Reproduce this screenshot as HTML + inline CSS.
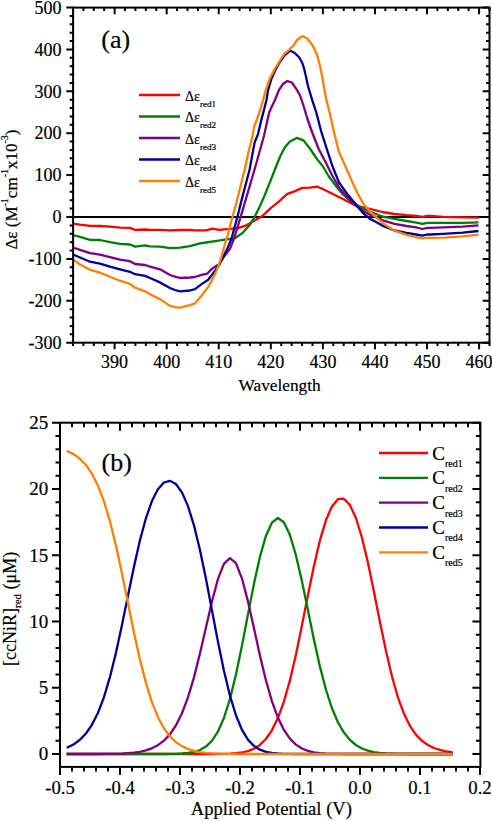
<!DOCTYPE html><html><head><meta charset="utf-8"><style>
html,body{margin:0;padding:0;background:#fff;}
svg{display:block;}
text{font-family:"Liberation Serif",serif;fill:#000;stroke:#000;stroke-width:0.2px;}
</style></head><body>
<svg width="492" height="821" viewBox="0 0 492 821">
<rect width="492" height="821" fill="#fff"/>
<line x1="73.1" y1="217" x2="489.5" y2="217" stroke="#000" stroke-width="2"/>
<polyline points="73.0,223.6 80.0,224.6 90.0,225.8 100.0,226.0 110.0,226.7 120.0,227.6 130.0,227.9 135.0,229.8 145.0,229.5 150.0,229.8 160.0,229.8 170.0,230.3 180.0,230.0 190.0,229.8 195.0,230.4 206.0,230.4 212.5,228.6 219.1,229.9 230.0,228.9 238.1,228.2 246.3,225.3 254.4,220.7 262.5,215.9 270.7,208.2 278.8,201.7 286.9,194.1 295.0,191.1 302.4,187.9 309.8,187.7 317.1,186.6 321.1,188.2 329.3,192.3 337.4,196.3 348.8,202.0 356.9,206.1 368.3,208.5 376.1,210.4 382.2,212.0 394.4,214.0 406.6,215.2 416.3,215.9 422.4,216.8 427.3,215.9 430.0,215.9 443.2,216.8 462.7,217.3 478.5,217.6" fill="none" stroke="#ff0000" stroke-width="2.3" stroke-linejoin="round" stroke-linecap="butt"/>
<polyline points="73.0,235.0 80.0,236.8 90.0,239.8 100.0,240.0 110.0,242.2 120.0,243.8 130.0,244.5 135.0,246.6 145.0,245.4 150.0,246.3 160.0,246.6 170.0,248.2 180.0,247.7 190.0,246.1 200.0,243.3 206.0,242.5 216.9,240.8 227.9,239.2 234.9,238.3 243.0,232.6 249.5,225.3 254.4,217.2 259.3,207.4 264.1,196.8 269.0,184.6 274.7,170.0 280.2,156.3 285.0,147.0 290.0,141.5 296.9,137.9 303.4,140.3 309.9,148.5 317.9,160.3 323.0,166.5 328.5,176.0 335.8,185.8 342.3,193.9 352.0,202.0 361.8,207.7 370.0,211.8 376.1,214.0 382.2,216.5 394.4,218.9 406.6,221.0 416.3,222.6 422.4,223.8 427.3,222.9 430.0,222.9 443.2,222.9 462.7,222.9 478.5,222.4" fill="none" stroke="#008000" stroke-width="2.3" stroke-linejoin="round" stroke-linecap="butt"/>
<polyline points="73.0,247.5 80.0,249.8 90.0,253.1 100.0,254.7 110.0,257.2 120.0,259.6 130.0,261.2 135.0,264.0 145.0,265.0 150.0,266.6 160.0,269.3 170.0,275.0 175.0,276.7 180.0,278.0 190.0,277.5 195.0,277.0 201.6,274.8 207.1,273.7 211.4,269.3 215.8,266.1 219.1,264.4 223.5,257.3 230.1,248.5 234.1,238.3 240.6,217.2 246.3,197.6 254.4,170.0 259.7,151.2 264.0,135.8 269.1,112.8 271.7,106.8 275.0,100.0 279.0,89.9 283.0,84.0 287.2,81.0 292.0,82.6 296.9,89.9 300.0,95.3 303.3,105.0 307.3,118.5 312.0,132.0 318.7,149.0 326.0,163.0 332.5,176.0 339.0,187.4 347.2,197.2 355.3,205.3 365.0,212.0 370.0,214.8 376.1,217.1 382.2,220.1 394.4,223.8 406.6,226.0 416.3,227.4 422.4,229.0 427.3,227.8 430.0,227.8 443.2,227.3 462.7,226.6 478.5,225.4" fill="none" stroke="#800080" stroke-width="2.3" stroke-linejoin="round" stroke-linecap="butt"/>
<polyline points="73.0,254.5 80.0,257.5 90.0,261.7 100.0,263.7 110.0,266.6 120.0,269.3 130.0,271.8 135.0,274.2 145.0,275.9 150.0,278.0 160.0,282.4 170.0,288.0 175.0,290.0 180.0,291.3 190.0,290.5 195.0,289.1 201.6,284.1 208.2,279.8 213.6,272.6 219.1,265.0 223.5,256.2 227.9,247.4 231.6,238.3 237.3,217.2 242.2,197.6 249.5,170.0 254.6,142.6 258.0,134.1 261.4,119.6 264.8,106.8 266.5,100.0 268.0,90.5 271.3,79.1 275.3,70.2 279.5,62.5 284.5,55.5 290.2,50.6 295.0,53.2 299.1,57.3 302.3,63.0 303.9,67.8 306.0,76.8 308.0,86.0 312.2,100.2 316.3,112.5 321.1,131.1 326.8,149.0 332.5,166.3 339.0,182.5 347.2,193.9 355.3,203.7 363.4,213.4 370.0,218.9 376.1,222.0 382.2,225.6 394.4,230.5 406.6,232.9 416.3,234.5 422.4,235.6 427.3,234.5 430.0,234.5 443.2,233.9 462.7,232.7 478.5,231.0" fill="none" stroke="#000099" stroke-width="2.3" stroke-linejoin="round" stroke-linecap="butt"/>
<polyline points="73.0,259.5 80.0,264.5 90.0,269.8 100.0,272.6 110.0,276.7 120.0,280.7 130.0,284.0 135.0,287.7 145.0,291.3 150.0,294.2 160.0,299.1 170.0,305.9 175.0,307.2 180.0,307.6 190.0,305.1 195.0,303.3 201.6,295.7 208.2,286.9 213.6,277.0 218.0,267.1 221.3,257.3 224.6,245.2 227.9,234.3 230.0,226.0 236.5,202.5 244.6,170.0 248.6,151.2 252.0,138.4 254.2,126.4 256.3,121.3 260.6,108.5 263.1,100.0 265.6,90.5 269.6,79.1 274.5,69.4 279.4,61.3 284.3,53.9 289.1,49.9 293.2,45.8 297.0,40.0 302.3,36.1 307.2,38.6 311.3,43.4 314.5,49.1 317.0,54.8 318.6,60.5 320.2,67.0 322.2,76.8 326.0,98.5 330.1,114.8 334.1,132.7 339.0,152.2 343.9,163.0 350.4,177.6 356.9,192.3 363.4,203.7 369.9,211.5 376.1,217.1 382.2,222.6 388.3,226.8 394.4,230.5 406.6,234.8 416.3,237.2 422.4,238.4 427.3,237.8 430.0,237.8 443.2,237.6 462.7,236.3 478.5,234.6" fill="none" stroke="#ff8000" stroke-width="2.3" stroke-linejoin="round" stroke-linecap="butt"/>
<rect x="73.1" y="7.6" width="416.4" height="335.09999999999997" fill="none" stroke="#000" stroke-width="2"/>
<path d="M66.3,342.70H73.1M482.7,342.70H489.5M69.69999999999999,334.32H73.1M486.1,334.32H489.5M69.69999999999999,325.94H73.1M486.1,325.94H489.5M69.69999999999999,317.56H73.1M486.1,317.56H489.5M69.69999999999999,309.18H73.1M486.1,309.18H489.5M66.3,300.80H73.1M482.7,300.80H489.5M69.69999999999999,292.42H73.1M486.1,292.42H489.5M69.69999999999999,284.04H73.1M486.1,284.04H489.5M69.69999999999999,275.66H73.1M486.1,275.66H489.5M69.69999999999999,267.28H73.1M486.1,267.28H489.5M66.3,258.90H73.1M482.7,258.90H489.5M69.69999999999999,250.52H73.1M486.1,250.52H489.5M69.69999999999999,242.14H73.1M486.1,242.14H489.5M69.69999999999999,233.76H73.1M486.1,233.76H489.5M69.69999999999999,225.38H73.1M486.1,225.38H489.5M66.3,217.00H73.1M482.7,217.00H489.5M69.69999999999999,208.62H73.1M486.1,208.62H489.5M69.69999999999999,200.24H73.1M486.1,200.24H489.5M69.69999999999999,191.86H73.1M486.1,191.86H489.5M69.69999999999999,183.48H73.1M486.1,183.48H489.5M66.3,175.10H73.1M482.7,175.10H489.5M69.69999999999999,166.72H73.1M486.1,166.72H489.5M69.69999999999999,158.34H73.1M486.1,158.34H489.5M69.69999999999999,149.96H73.1M486.1,149.96H489.5M69.69999999999999,141.58H73.1M486.1,141.58H489.5M66.3,133.20H73.1M482.7,133.20H489.5M69.69999999999999,124.82H73.1M486.1,124.82H489.5M69.69999999999999,116.44H73.1M486.1,116.44H489.5M69.69999999999999,108.06H73.1M486.1,108.06H489.5M69.69999999999999,99.68H73.1M486.1,99.68H489.5M66.3,91.30H73.1M482.7,91.30H489.5M69.69999999999999,82.92H73.1M486.1,82.92H489.5M69.69999999999999,74.54H73.1M486.1,74.54H489.5M69.69999999999999,66.16H73.1M486.1,66.16H489.5M69.69999999999999,57.78H73.1M486.1,57.78H489.5M66.3,49.40H73.1M482.7,49.40H489.5M69.69999999999999,41.02H73.1M486.1,41.02H489.5M69.69999999999999,32.64H73.1M486.1,32.64H489.5M69.69999999999999,24.26H73.1M486.1,24.26H489.5M69.69999999999999,15.88H73.1M486.1,15.88H489.5M66.3,7.50H73.1M482.7,7.50H489.5M72.95,342.7V346.0M72.95,7.6V10.899999999999999M83.36,342.7V346.0M83.36,7.6V10.899999999999999M93.78,342.7V346.0M93.78,7.6V10.899999999999999M104.19,342.7V346.0M104.19,7.6V10.899999999999999M114.61,342.7V349.3M114.61,7.6V14.2M125.02,342.7V346.0M125.02,7.6V10.899999999999999M135.43,342.7V346.0M135.43,7.6V10.899999999999999M145.85,342.7V346.0M145.85,7.6V10.899999999999999M156.26,342.7V346.0M156.26,7.6V10.899999999999999M166.68,342.7V349.3M166.68,7.6V14.2M177.09,342.7V346.0M177.09,7.6V10.899999999999999M187.50,342.7V346.0M187.50,7.6V10.899999999999999M197.92,342.7V346.0M197.92,7.6V10.899999999999999M208.33,342.7V346.0M208.33,7.6V10.899999999999999M218.75,342.7V349.3M218.75,7.6V14.2M229.16,342.7V346.0M229.16,7.6V10.899999999999999M239.57,342.7V346.0M239.57,7.6V10.899999999999999M249.99,342.7V346.0M249.99,7.6V10.899999999999999M260.40,342.7V346.0M260.40,7.6V10.899999999999999M270.82,342.7V349.3M270.82,7.6V14.2M281.23,342.7V346.0M281.23,7.6V10.899999999999999M291.64,342.7V346.0M291.64,7.6V10.899999999999999M302.06,342.7V346.0M302.06,7.6V10.899999999999999M312.47,342.7V346.0M312.47,7.6V10.899999999999999M322.89,342.7V349.3M322.89,7.6V14.2M333.30,342.7V346.0M333.30,7.6V10.899999999999999M343.71,342.7V346.0M343.71,7.6V10.899999999999999M354.13,342.7V346.0M354.13,7.6V10.899999999999999M364.54,342.7V346.0M364.54,7.6V10.899999999999999M374.96,342.7V349.3M374.96,7.6V14.2M385.37,342.7V346.0M385.37,7.6V10.899999999999999M395.78,342.7V346.0M395.78,7.6V10.899999999999999M406.20,342.7V346.0M406.20,7.6V10.899999999999999M416.61,342.7V346.0M416.61,7.6V10.899999999999999M427.03,342.7V349.3M427.03,7.6V14.2M437.44,342.7V346.0M437.44,7.6V10.899999999999999M447.85,342.7V346.0M447.85,7.6V10.899999999999999M458.27,342.7V346.0M458.27,7.6V10.899999999999999M468.68,342.7V346.0M468.68,7.6V10.899999999999999M479.10,342.7V349.3M479.10,7.6V14.2M489.51,342.7V346.0M489.51,7.6V10.899999999999999" stroke="#000" stroke-width="2" fill="none"/>
<text x="61.5" y="348.9" font-size="18" text-anchor="end">-300</text>
<text x="61.5" y="307.0" font-size="18" text-anchor="end">-200</text>
<text x="61.5" y="265.1" font-size="18" text-anchor="end">-100</text>
<text x="61.5" y="223.2" font-size="18" text-anchor="end">0</text>
<text x="61.5" y="181.3" font-size="18" text-anchor="end">100</text>
<text x="61.5" y="139.4" font-size="18" text-anchor="end">200</text>
<text x="61.5" y="97.5" font-size="18" text-anchor="end">300</text>
<text x="61.5" y="55.6" font-size="18" text-anchor="end">400</text>
<text x="61.5" y="13.7" font-size="18" text-anchor="end">500</text>
<text x="114.6" y="367.8" font-size="18" text-anchor="middle">390</text>
<text x="166.7" y="367.8" font-size="18" text-anchor="middle">400</text>
<text x="218.7" y="367.8" font-size="18" text-anchor="middle">410</text>
<text x="270.8" y="367.8" font-size="18" text-anchor="middle">420</text>
<text x="322.9" y="367.8" font-size="18" text-anchor="middle">430</text>
<text x="375.0" y="367.8" font-size="18" text-anchor="middle">440</text>
<text x="427.0" y="367.8" font-size="18" text-anchor="middle">450</text>
<text x="479.1" y="367.8" font-size="18" text-anchor="middle">460</text>
<text x="279.6" y="390.7" font-size="17.3" text-anchor="middle">Wavelength</text>
<text x="101.3" y="48.3" font-size="26">(a)</text>
<text transform="translate(17,249.6) rotate(-90)" font-size="17">Δε (M<tspan font-size="10" dy="-9">-1</tspan><tspan dy="9">cm</tspan><tspan font-size="10" dy="-9">-1</tspan><tspan dy="9">x10</tspan><tspan font-size="10" dy="-9">-3</tspan><tspan dy="9">)</tspan></text>
<line x1="139" y1="95.0" x2="180" y2="95.0" stroke="#ff0000" stroke-width="2.3"/>
<text x="185" y="100.8" font-size="14">Δε<tspan font-size="9.1" dy="6.1">red1</tspan></text>
<line x1="139" y1="116.5" x2="180" y2="116.5" stroke="#008000" stroke-width="2.3"/>
<text x="185" y="122.3" font-size="14">Δε<tspan font-size="9.1" dy="6.1">red2</tspan></text>
<line x1="139" y1="138.0" x2="180" y2="138.0" stroke="#800080" stroke-width="2.3"/>
<text x="185" y="143.8" font-size="14">Δε<tspan font-size="9.1" dy="6.1">red3</tspan></text>
<line x1="139" y1="159.5" x2="180" y2="159.5" stroke="#000099" stroke-width="2.3"/>
<text x="185" y="165.3" font-size="14">Δε<tspan font-size="9.1" dy="6.1">red4</tspan></text>
<line x1="139" y1="181.0" x2="180" y2="181.0" stroke="#ff8000" stroke-width="2.3"/>
<text x="185" y="186.8" font-size="14">Δε<tspan font-size="9.1" dy="6.1">red5</tspan></text>
<polyline points="66.7,754.0 67.9,754.0 73.9,754.0 79.9,754.0 85.9,754.0 91.9,754.0 97.9,754.0 103.9,754.0 109.9,754.0 115.9,754.0 121.9,754.0 127.9,754.0 133.9,754.0 139.9,754.0 145.9,754.0 151.9,754.0 157.9,754.0 163.9,754.0 169.9,754.0 175.9,754.0 181.9,754.0 187.9,754.0 193.9,754.0 199.9,754.0 205.9,754.0 211.9,754.0 217.9,753.9 223.9,753.8 229.9,753.6 235.9,753.2 241.9,752.5 247.9,751.1 253.9,748.7 259.9,744.9 265.9,739.0 271.9,730.3 277.9,718.1 283.9,701.6 289.9,680.4 295.9,654.7 301.9,625.6 307.9,595.2 313.9,566.0 319.9,540.4 325.9,520.3 331.9,506.4 337.9,499.2 343.9,498.7 349.9,505.0 355.9,518.0 361.9,537.5 367.9,562.5 373.9,591.4 379.9,621.7 385.9,650.6 391.9,676.2 397.9,697.3 403.9,713.6 409.9,725.8 415.9,734.6 421.9,740.8 427.9,745.0 433.9,748.0 439.9,749.9 445.9,751.3 451.9,752.2 452.7,752.3" fill="none" stroke="#ff0000" stroke-width="2.3" stroke-linejoin="round"/>
<polyline points="66.7,754.0 67.9,754.0 73.9,754.0 79.9,754.0 85.9,754.0 91.9,754.0 97.9,754.0 103.9,754.0 109.9,754.0 115.9,754.0 121.9,754.0 127.9,754.0 133.9,754.0 139.9,754.0 145.9,754.0 151.9,754.0 157.9,754.0 163.9,754.0 169.9,753.9 175.9,753.8 181.9,753.5 187.9,753.0 193.9,752.0 199.9,750.1 205.9,746.6 211.9,740.8 217.9,731.7 223.9,718.0 229.9,699.1 235.9,674.8 241.9,646.0 247.9,614.8 253.9,584.1 259.9,556.9 265.9,535.9 271.9,522.7 277.9,518.0 283.9,522.3 289.9,535.0 295.9,555.2 301.9,581.1 307.9,610.1 313.9,639.4 319.9,666.4 325.9,689.5 331.9,708.0 337.9,722.2 343.9,732.6 349.9,739.9 355.9,745.0 361.9,748.5 367.9,750.7 373.9,752.1 379.9,753.0 385.9,753.5 391.9,753.7 397.9,753.9 403.9,753.9 409.9,754.0 415.9,754.0 421.9,754.0 427.9,754.0 433.9,754.0 439.9,754.0 445.9,754.0 451.9,754.0 452.7,754.0" fill="none" stroke="#008000" stroke-width="2.3" stroke-linejoin="round"/>
<polyline points="66.7,754.0 67.9,754.0 73.9,754.0 79.9,754.0 85.9,754.0 91.9,754.0 97.9,754.0 103.9,753.9 109.9,753.9 115.9,753.8 121.9,753.6 127.9,753.2 133.9,752.7 139.9,751.8 145.9,750.4 151.9,748.3 157.9,745.2 163.9,740.7 169.9,734.4 175.9,725.5 181.9,713.5 187.9,697.6 193.9,677.6 199.9,653.8 205.9,627.7 211.9,601.7 217.9,579.2 223.9,563.8 229.9,558.1 235.9,563.2 241.9,578.3 247.9,601.1 253.9,628.0 259.9,655.3 265.9,680.2 271.9,701.1 277.9,717.6 283.9,729.9 289.9,738.6 295.9,744.6 301.9,748.5 307.9,750.9 313.9,752.3 319.9,753.1 325.9,753.6 331.9,753.8 337.9,753.9 343.9,754.0 349.9,754.0 355.9,754.0 361.9,754.0 367.9,754.0 373.9,754.0 379.9,754.0 385.9,754.0 391.9,754.0 397.9,754.0 403.9,754.0 409.9,754.0 415.9,754.0 421.9,754.0 427.9,754.0 433.9,754.0 439.9,754.0 445.9,754.0 451.9,754.0 452.7,754.0" fill="none" stroke="#800080" stroke-width="2.3" stroke-linejoin="round"/>
<polyline points="66.7,747.7 67.9,747.2 73.9,744.2 79.9,739.8 85.9,733.5 91.9,724.8 97.9,713.0 103.9,697.3 109.9,677.2 115.9,653.0 121.9,625.3 127.9,595.9 133.9,566.9 139.9,540.5 145.9,518.3 151.9,501.1 157.9,489.3 163.9,482.5 169.9,480.8 175.9,484.0 181.9,492.3 187.9,505.9 193.9,525.1 199.9,549.7 205.9,578.5 211.9,610.0 217.9,641.5 223.9,670.6 229.9,695.5 235.9,715.2 241.9,729.7 247.9,739.6 253.9,745.9 259.9,749.7 265.9,751.8 271.9,752.9 277.9,753.5 283.9,753.8 289.9,753.9 295.9,754.0 301.9,754.0 307.9,754.0 313.9,754.0 319.9,754.0 325.9,754.0 331.9,754.0 337.9,754.0 343.9,754.0 349.9,754.0 355.9,754.0 361.9,754.0 367.9,754.0 373.9,754.0 379.9,754.0 385.9,754.0 391.9,754.0 397.9,754.0 403.9,754.0 409.9,754.0 415.9,754.0 421.9,754.0 427.9,754.0 433.9,754.0 439.9,754.0 445.9,754.0 451.9,754.0 452.7,754.0" fill="none" stroke="#000099" stroke-width="2.3" stroke-linejoin="round"/>
<polyline points="66.7,450.9 67.9,451.4 73.9,454.4 79.9,458.8 85.9,465.0 91.9,473.7 97.9,485.5 103.9,501.2 109.9,521.2 115.9,545.4 121.9,573.2 127.9,602.8 133.9,632.2 139.9,659.4 145.9,682.9 151.9,702.1 157.9,717.0 163.9,728.2 169.9,736.3 175.9,742.1 181.9,746.1 187.9,748.9 193.9,750.8 199.9,752.1 205.9,752.9 211.9,753.4 217.9,753.7 223.9,753.8 229.9,753.9 235.9,754.0 241.9,754.0 247.9,754.0 253.9,754.0 259.9,754.0 265.9,754.0 271.9,754.0 277.9,754.0 283.9,754.0 289.9,754.0 295.9,754.0 301.9,754.0 307.9,754.0 313.9,754.0 319.9,754.0 325.9,754.0 331.9,754.0 337.9,754.0 343.9,754.0 349.9,754.0 355.9,754.0 361.9,754.0 367.9,754.0 373.9,754.0 379.9,754.0 385.9,754.0 391.9,754.0 397.9,754.0 403.9,754.0 409.9,754.0 415.9,754.0 421.9,754.0 427.9,754.0 433.9,754.0 439.9,754.0 445.9,754.0 451.9,754.0 452.7,754.0" fill="none" stroke="#ff8000" stroke-width="2.3" stroke-linejoin="round"/>
<rect x="60" y="422.7" width="420.4" height="344.2" fill="none" stroke="#000" stroke-width="2"/>
<path d="M52,754.00H60M472.4,754.00H480.4M55.5,740.75H60M475.9,740.75H480.4M55.5,727.50H60M475.9,727.50H480.4M55.5,714.25H60M475.9,714.25H480.4M55.5,701.00H60M475.9,701.00H480.4M52,687.75H60M472.4,687.75H480.4M55.5,674.50H60M475.9,674.50H480.4M55.5,661.25H60M475.9,661.25H480.4M55.5,648.00H60M475.9,648.00H480.4M55.5,634.75H60M475.9,634.75H480.4M52,621.50H60M472.4,621.50H480.4M55.5,608.25H60M475.9,608.25H480.4M55.5,595.00H60M475.9,595.00H480.4M55.5,581.75H60M475.9,581.75H480.4M55.5,568.50H60M475.9,568.50H480.4M52,555.25H60M472.4,555.25H480.4M55.5,542.00H60M475.9,542.00H480.4M55.5,528.75H60M475.9,528.75H480.4M55.5,515.50H60M475.9,515.50H480.4M55.5,502.25H60M475.9,502.25H480.4M52,489.00H60M472.4,489.00H480.4M55.5,475.75H60M475.9,475.75H480.4M55.5,462.50H60M475.9,462.50H480.4M55.5,449.25H60M475.9,449.25H480.4M55.5,436.00H60M475.9,436.00H480.4M52,422.75H60M472.4,422.75H480.4M60.00,766.9V774.9M60.00,422.7V430.7M72.00,766.9V771.4M72.00,422.7V427.2M84.00,766.9V771.4M84.00,422.7V427.2M96.00,766.9V771.4M96.00,422.7V427.2M108.00,766.9V771.4M108.00,422.7V427.2M120.00,766.9V774.9M120.00,422.7V430.7M132.00,766.9V771.4M132.00,422.7V427.2M144.00,766.9V771.4M144.00,422.7V427.2M156.00,766.9V771.4M156.00,422.7V427.2M168.00,766.9V771.4M168.00,422.7V427.2M180.00,766.9V774.9M180.00,422.7V430.7M192.00,766.9V771.4M192.00,422.7V427.2M204.00,766.9V771.4M204.00,422.7V427.2M216.00,766.9V771.4M216.00,422.7V427.2M228.00,766.9V771.4M228.00,422.7V427.2M240.00,766.9V774.9M240.00,422.7V430.7M252.00,766.9V771.4M252.00,422.7V427.2M264.00,766.9V771.4M264.00,422.7V427.2M276.00,766.9V771.4M276.00,422.7V427.2M288.00,766.9V771.4M288.00,422.7V427.2M300.00,766.9V774.9M300.00,422.7V430.7M312.00,766.9V771.4M312.00,422.7V427.2M324.00,766.9V771.4M324.00,422.7V427.2M336.00,766.9V771.4M336.00,422.7V427.2M348.00,766.9V771.4M348.00,422.7V427.2M360.00,766.9V774.9M360.00,422.7V430.7M372.00,766.9V771.4M372.00,422.7V427.2M384.00,766.9V771.4M384.00,422.7V427.2M396.00,766.9V771.4M396.00,422.7V427.2M408.00,766.9V771.4M408.00,422.7V427.2M420.00,766.9V774.9M420.00,422.7V430.7M432.00,766.9V771.4M432.00,422.7V427.2M444.00,766.9V771.4M444.00,422.7V427.2M456.00,766.9V771.4M456.00,422.7V427.2M468.00,766.9V771.4M468.00,422.7V427.2M480.00,766.9V774.9M480.00,422.7V430.7" stroke="#000" stroke-width="2" fill="none"/>
<text x="48.2" y="760.4" font-size="19" text-anchor="end">0</text>
<text x="48.2" y="694.1" font-size="19" text-anchor="end">5</text>
<text x="48.2" y="627.9" font-size="19" text-anchor="end">10</text>
<text x="48.2" y="561.6" font-size="19" text-anchor="end">15</text>
<text x="48.2" y="495.4" font-size="19" text-anchor="end">20</text>
<text x="48.2" y="429.1" font-size="19" text-anchor="end">25</text>
<text x="60.0" y="794.3" font-size="18.7" text-anchor="middle">-0.5</text>
<text x="120.0" y="794.3" font-size="18.7" text-anchor="middle">-0.4</text>
<text x="180.0" y="794.3" font-size="18.7" text-anchor="middle">-0.3</text>
<text x="240.0" y="794.3" font-size="18.7" text-anchor="middle">-0.2</text>
<text x="300.0" y="794.3" font-size="18.7" text-anchor="middle">-0.1</text>
<text x="360.0" y="794.3" font-size="18.7" text-anchor="middle">0.0</text>
<text x="420.0" y="794.3" font-size="18.7" text-anchor="middle">0.1</text>
<text x="480.0" y="794.3" font-size="18.7" text-anchor="middle">0.2</text>
<text x="271.4" y="815" font-size="18.6" text-anchor="middle">Applied Potential (V)</text>
<text x="101.5" y="470.8" font-size="26">(b)</text>
<text transform="translate(16,666) rotate(-90)" font-size="18">[ccNiR]<tspan font-size="11" dy="5">red</tspan><tspan dy="-5"> (μM)</tspan></text>
<line x1="379" y1="453.0" x2="428" y2="453.0" stroke="#ff0000" stroke-width="2.3"/>
<text x="432.2" y="459.5" font-size="19">C<tspan font-size="10" dy="7.3">red1</tspan></text>
<line x1="379" y1="477.9" x2="428" y2="477.9" stroke="#008000" stroke-width="2.3"/>
<text x="432.2" y="484.4" font-size="19">C<tspan font-size="10" dy="7.3">red2</tspan></text>
<line x1="379" y1="502.7" x2="428" y2="502.7" stroke="#800080" stroke-width="2.3"/>
<text x="432.2" y="509.2" font-size="19">C<tspan font-size="10" dy="7.3">red3</tspan></text>
<line x1="379" y1="527.5" x2="428" y2="527.5" stroke="#000099" stroke-width="2.3"/>
<text x="432.2" y="534.0" font-size="19">C<tspan font-size="10" dy="7.3">red4</tspan></text>
<line x1="379" y1="552.4" x2="428" y2="552.4" stroke="#ff8000" stroke-width="2.3"/>
<text x="432.2" y="558.9" font-size="19">C<tspan font-size="10" dy="7.3">red5</tspan></text>
</svg></body></html>
